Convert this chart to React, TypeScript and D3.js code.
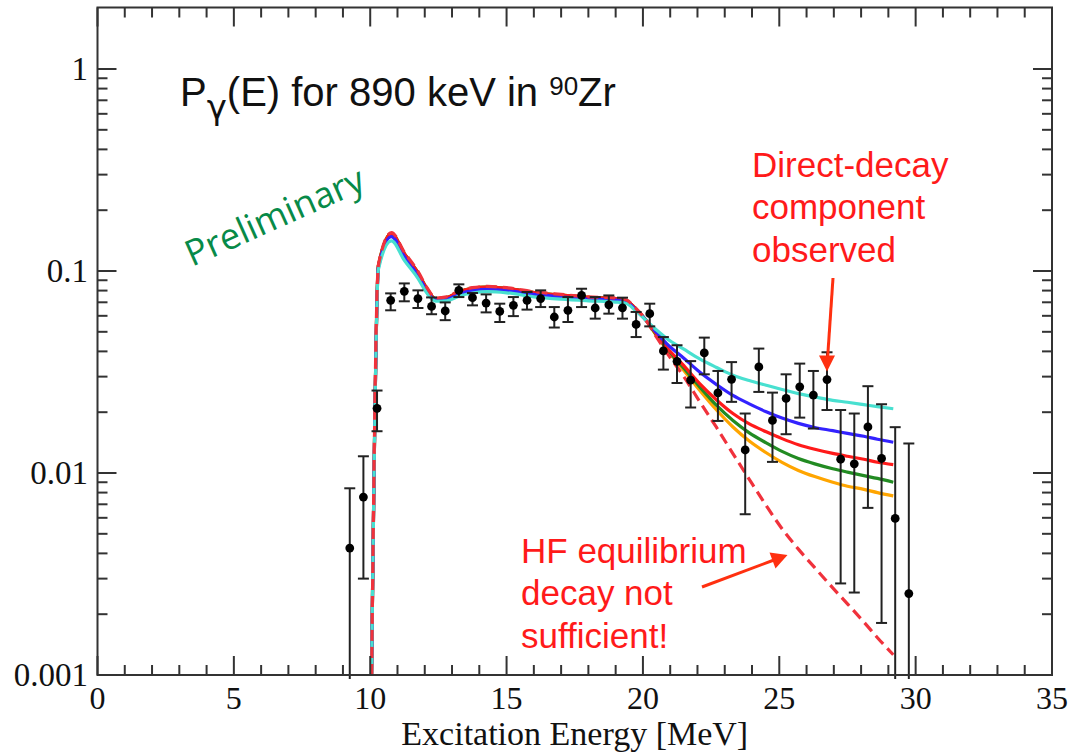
import React from 'react';
import * as d3 from 'd3';

// ---- measured P_gamma(E) points (0.5 MeV bins) ----
const pointEnergy = [
  9.25, 9.75, 10.25, 10.75, 11.25, 11.75, 12.25, 12.75, 13.25, 13.75,
  14.25, 14.75, 15.25, 15.75, 16.25, 16.75, 17.25, 17.75, 18.25, 18.75,
  19.25, 19.75, 20.25, 20.75, 21.25, 21.75, 22.25, 22.75, 23.25, 23.75,
  24.25, 24.75, 25.25, 25.75, 26.25, 26.75, 27.25, 27.75, 28.25, 28.75,
  29.25, 29.75,
];
const pointValue = [
  0.00425, 0.0076, 0.0209, 0.0716, 0.0793, 0.073, 0.0668, 0.0634, 0.0802, 0.0738,
  0.0694, 0.0631, 0.0676, 0.0716, 0.073, 0.0592, 0.0639, 0.0757, 0.0656, 0.068,
  0.0657, 0.0544, 0.0615, 0.0402, 0.0357, 0.0288, 0.0393, 0.0249, 0.0291, 0.013,
  0.0335, 0.0182, 0.0234, 0.0267, 0.0243, 0.029, 0.0117, 0.0111, 0.0169, 0.0118,
  0.00596, 0.00253,
];
const errLow = [
  0.0005, 0.003, 0.0161, 0.0639, 0.0708, 0.0656, 0.0611, 0.0571, 0.0743, 0.0676,
  0.0624, 0.0559, 0.0598, 0.0644, 0.0663, 0.0525, 0.0559, 0.0663, 0.0581, 0.0615,
  0.0581, 0.0471, 0.0532, 0.0325, 0.0279, 0.0211, 0.0308, 0.0181, 0.0225, 0.00625,
  0.0252, 0.01135, 0.01556, 0.0188, 0.0166, 0.0205, 0.00284, 0.00256, 0.00672, 0.00181,
  0.0005, 0.0005,
];
const errHigh = [
  0.0084, 0.0121, 0.0256, 0.0775, 0.0868, 0.0802, 0.074, 0.0699, 0.0859, 0.0778,
  0.0766, 0.0689, 0.0743, 0.0787, 0.0802, 0.0663, 0.0743, 0.0817, 0.0743, 0.0757,
  0.0738, 0.0627, 0.0689, 0.0471, 0.0429, 0.0358, 0.0468, 0.032, 0.0354, 0.0197,
  0.0413, 0.025, 0.0308, 0.0348, 0.032, 0.0396, 0.0205, 0.0197, 0.0269, 0.0219,
  0.01686, 0.014,
];

// ---- model curves (shared energy grid) ----
const curveEnergy = [
  10.05, 10.3, 10.78, 11.25, 11.75, 12.1, 12.4, 12.8, 13.25, 13.75,
  14.3, 15.0, 16.0, 17.0, 18.0, 19.0, 19.4, 19.7, 20.1, 20.5,
  20.86, 21.5, 22.08, 22.7, 23.3, 23.9, 24.52, 25.1, 25.7, 26.3,
  26.96, 27.5, 28.1, 28.6, 29.18,
];
const orangeCurve = [
  0.001, 0.106, 0.153, 0.122, 0.098, 0.081, 0.0728, 0.0738, 0.0788, 0.082,
  0.0832, 0.082, 0.0783, 0.076, 0.074, 0.073, 0.0713, 0.0658, 0.0572, 0.0478,
  0.0412, 0.0322, 0.0257, 0.0205, 0.0169, 0.0144, 0.0126, 0.0113, 0.0103, 0.0096,
  0.009, 0.0086, 0.0083, 0.008, 0.0077,
];
const greenCurve = [
  0.001, 0.106, 0.153, 0.122, 0.098, 0.081, 0.0728, 0.0738, 0.0788, 0.082,
  0.0832, 0.082, 0.0783, 0.076, 0.074, 0.073, 0.0713, 0.0658, 0.0573, 0.0482,
  0.0416, 0.033, 0.0267, 0.0216, 0.0182, 0.0158, 0.0141, 0.0128, 0.0118, 0.0111,
  0.0105, 0.0101, 0.0097, 0.0094, 0.009,
];
const redCurve = [
  0.001, 0.106, 0.153, 0.122, 0.098, 0.081, 0.0728, 0.0738, 0.0788, 0.082,
  0.0832, 0.082, 0.0783, 0.076, 0.074, 0.073, 0.0713, 0.0658, 0.0574, 0.0486,
  0.0421, 0.034, 0.0277, 0.023, 0.0197, 0.0175, 0.016, 0.0148, 0.0138, 0.0131,
  0.0125, 0.0121, 0.0117, 0.0113, 0.011,
];
const blueCurve = [
  0.001, 0.104, 0.148, 0.118, 0.095, 0.079, 0.0718, 0.0725, 0.077, 0.08,
  0.0812, 0.08, 0.0766, 0.0745, 0.0727, 0.0718, 0.0702, 0.065, 0.0572, 0.0495,
  0.0438, 0.037, 0.0316, 0.0274, 0.0242, 0.022, 0.0201, 0.0187, 0.0176, 0.0168,
  0.0162, 0.0157, 0.0152, 0.0147, 0.0142,
];
const cyanCurve = [
  0.001, 0.102, 0.141, 0.113, 0.092, 0.077, 0.071, 0.0712, 0.075, 0.0778,
  0.079, 0.078, 0.0745, 0.0725, 0.0712, 0.0702, 0.069, 0.0642, 0.0572, 0.051,
  0.0465, 0.041, 0.0367, 0.0333, 0.0305, 0.0287, 0.0272, 0.0259, 0.0247, 0.0238,
  0.0229, 0.0224, 0.0218, 0.0213, 0.0208,
];
const hfCurve = [
  0.001, 0.107, 0.155, 0.124, 0.0995, 0.082, 0.0735, 0.0745, 0.0795, 0.0827,
  0.0839, 0.0827, 0.079, 0.0766, 0.0745, 0.0735, 0.0718, 0.0662, 0.0575, 0.047,
  0.0397, 0.03, 0.0226, 0.0168, 0.01248, 0.0093, 0.0069, 0.0053, 0.0042, 0.0034,
  0.0027, 0.00225, 0.00183, 0.00153, 0.00126,
];

const curves = [
  { name: 'orange', values: orangeCurve, color: '#ffa500', dash: '' },
  { name: 'green', values: greenCurve, color: '#228b22', dash: '' },
  { name: 'red', values: redCurve, color: '#ff1a1a', dash: '' },
  { name: 'blue', values: blueCurve, color: '#3322ff', dash: '' },
  { name: 'cyan', values: cyanCurve, color: '#48e0d0', dash: '' },
  { name: 'hf', values: hfCurve, color: '#f0323c', dash: '11,6' },
];

// ---- axes ----
const xMajorTicks = [0, 5, 10, 15, 20, 25, 30, 35];
const yMajorTicks = [0.001, 0.01, 0.1, 1];
const yTickLabels = ['0.001', '0.01', '0.1', '1'];

const W = 1072;
const H = 752;
const PLOT = { left: 97.5, right: 1052, top: 7.5, bottom: 675 };

export default function App() {
  const x = d3.scaleLinear().domain([0, 35]).range([PLOT.left, PLOT.right]);
  const y = d3.scaleLog().domain([0.001, 2.016]).range([PLOT.bottom, PLOT.top]);

  const line = d3
    .line<[number, number]>()
    .x((d) => x(d[0]))
    .y((d) => y(d[1]))
    .curve(d3.curveMonotoneX);

  const xMinor = d3.range(1, 35).filter((v) => v % 5 !== 0);
  const yMinor: number[] = [];
  [0.001, 0.01, 0.1, 1].forEach((dec) => {
    for (let k = 2; k <= 9; k++) {
      const v = dec * k;
      if (v < 1.5) yMinor.push(v);
    }
  });

  const frame = '#333';
  const serif = '"Liberation Serif", "Times New Roman", serif';
  const sans = '"Liberation Sans", Arial, Helvetica, sans-serif';
  const errClampY = PLOT.bottom + 4;

  // arrow pointing at the 26.75 MeV point
  const tipX = x(26.75);
  const tipY = y(0.029) - 8;

  return (
    <svg
      width={W}
      height={H}
      style={{ position: 'absolute', left: 0, top: 0, background: '#fff' }}
    >
      <defs>
        <clipPath id="plot-clip">
          <rect
            x={PLOT.left}
            y={PLOT.top}
            width={PLOT.right - PLOT.left}
            height={PLOT.bottom - PLOT.top}
          />
        </clipPath>
      </defs>

      {/* model curves */}
      <g clipPath="url(#plot-clip)" fill="none">
        {curves.map((c) => (
          <path
            key={c.name}
            d={line(curveEnergy.map((e, i) => [e, c.values[i]] as [number, number])) || ''}
            stroke={c.color}
            strokeWidth={3.2}
            strokeDasharray={c.dash || undefined}
            strokeLinejoin="round"
          />
        ))}
      </g>

      {/* data with error bars */}
      <g stroke="#222" strokeWidth={2}>
        {pointEnergy.map((e, i) => {
          const px = x(e);
          const yHi = y(errHigh[i]);
          const yLo = Math.min(y(errLow[i]), errClampY);
          const loCapped = y(errLow[i]) <= PLOT.bottom;
          return (
            <g key={i}>
              <line x1={px} x2={px} y1={yHi} y2={yLo} />
              <line x1={px - 5.5} x2={px + 5.5} y1={yHi} y2={yHi} />
              {loCapped && <line x1={px - 5.5} x2={px + 5.5} y1={yLo} y2={yLo} />}
            </g>
          );
        })}
      </g>
      <g fill="#000">
        {pointEnergy.map((e, i) => (
          <circle key={i} cx={x(e)} cy={y(pointValue[i])} r={4.4} />
        ))}
      </g>

      {/* frame and ticks */}
      <rect
        x={PLOT.left}
        y={PLOT.top}
        width={PLOT.right - PLOT.left}
        height={PLOT.bottom - PLOT.top}
        fill="none"
        stroke={frame}
        strokeWidth={2}
      />
      <g stroke={frame} strokeWidth={2}>
        {xMajorTicks.map((v) => (
          <g key={'xM' + v}>
            <line x1={x(v)} x2={x(v)} y1={PLOT.bottom} y2={PLOT.bottom - 19} />
            <line x1={x(v)} x2={x(v)} y1={PLOT.top} y2={PLOT.top + 19} />
          </g>
        ))}
        {xMinor.map((v) => (
          <g key={'xm' + v}>
            <line x1={x(v)} x2={x(v)} y1={PLOT.bottom} y2={PLOT.bottom - 10} />
            <line x1={x(v)} x2={x(v)} y1={PLOT.top} y2={PLOT.top + 10} />
          </g>
        ))}
        {yMajorTicks.map((v) => (
          <g key={'yM' + v}>
            <line x1={PLOT.left} x2={PLOT.left + 19} y1={y(v)} y2={y(v)} />
            <line x1={PLOT.right} x2={PLOT.right - 19} y1={y(v)} y2={y(v)} />
          </g>
        ))}
        {yMinor.map((v) => (
          <g key={'ym' + v}>
            <line x1={PLOT.left} x2={PLOT.left + 10} y1={y(v)} y2={y(v)} />
            <line x1={PLOT.right} x2={PLOT.right - 10} y1={y(v)} y2={y(v)} />
          </g>
        ))}
      </g>

      {/* tick labels */}
      <g fontFamily={serif} fill="#111">
        {xMajorTicks.map((v) => (
          <text key={'xl' + v} x={x(v)} y={709} fontSize={32} textAnchor="middle">
            {v}
          </text>
        ))}
        {yMajorTicks.map((v, i) => (
          <text key={'yl' + v} x={88} y={y(v)} dy="0.34em" fontSize={33} textAnchor="end">
            {yTickLabels[i]}
          </text>
        ))}
      </g>
      <text
        x={x(17.5)}
        y={745}
        textAnchor="middle"
        fontFamily={serif}
        fontSize={34}
        fill="#111"
      >
        Excitation Energy [MeV]
      </text>

      {/* title */}
      <text x={180} y={106} fontFamily={sans} fontSize={40} fill="#111">
        P
        <tspan dy={13} fontFamily='"DejaVu Sans", sans-serif' fontSize={34}>γ</tspan>
        <tspan dy={-13}>(E) for 890 keV in </tspan>
        <tspan dy={-11} fontSize={26}>90</tspan>
        <tspan dy={11}>Zr</tspan>
      </text>

      {/* watermark */}
      <text
        x={192}
        y={267}
        transform="rotate(-24 192 267)"
        fontFamily='"Open Sans", "Noto Sans", sans-serif'
        fontSize={36}
        fill="#078a48"
      >
        Preliminary
      </text>

      {/* annotations */}
      <g fontFamily={sans} fontSize={35} fill="#ff1a1a">
        <text x={752} y={177}>Direct-decay</text>
        <text x={752} y={219}>component</text>
        <text x={752} y={262}>observed</text>
        <text x={521} y={563}>HF equilibrium</text>
        <text x={521} y={605}>decay not</text>
        <text x={521} y={648}>sufficient!</text>
      </g>
      <g stroke="#ff3010" fill="#ff3010">
        <line x1={833} y1={278} x2={tipX + 0.6} y2={tipY - 14} strokeWidth={3} />
        <polygon
          points={`${tipX},${tipY} ${tipX - 8},${tipY - 16} ${tipX + 8},${tipY - 16}`}
          stroke="none"
        />
        <line x1={702} y1={587} x2={774} y2={560} strokeWidth={3} />
        <polygon points="787.5,555 769.5,552.5 775.5,568.5" stroke="none" />
      </g>
    </svg>
  );
}
